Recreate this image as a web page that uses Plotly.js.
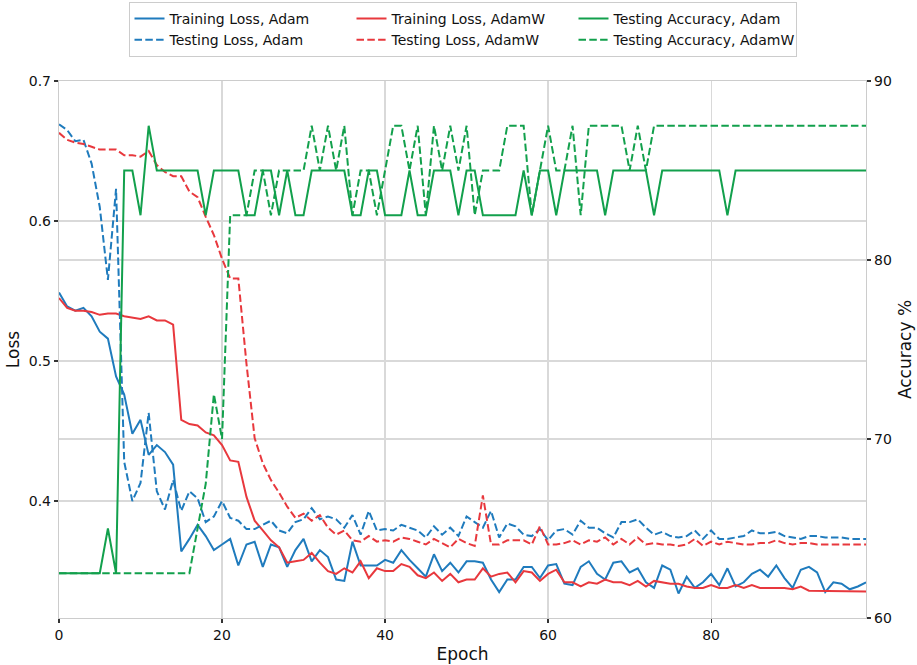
<!DOCTYPE html>
<html>
<head>
<meta charset="utf-8">
<script src="https://cdn.plot.ly/plotly-3.0.1.min.js"></script>
<style>html,body{margin:0;padding:0;background:#fff}</style>
</head>
<body>
<div id="chart" style="width:917px;height:665px"></div>
<script>
// Epoch index for every recorded point
const epochs = [0,1,2,3,4,5,6,7,8,9,10,11,12,13,14,15,16,17,18,19,20,21,22,23,24,25,26,27,28,29,
  30,31,32,33,34,35,36,37,38,39,40,41,42,43,44,45,46,47,48,49,50,51,52,53,54,55,56,57,58,59,
  60,61,62,63,64,65,66,67,68,69,70,71,72,73,74,75,76,77,78,79,80,81,82,83,84,85,86,87,88,89,
  90,91,92,93,94,95,96,97,98,99];

// Loss curves
const trainLossAdam = [0.549,0.539,0.536,0.538,0.532,0.521,0.516,0.489,0.476,0.448,
  0.458,0.433,0.440,0.435,0.426,0.364,0.373,0.383,0.375,0.365,
  0.369,0.373,0.354,0.369,0.371,0.353,0.369,0.367,0.353,0.365,
  0.373,0.357,0.365,0.360,0.344,0.343,0.371,0.354,0.354,0.354,
  0.358,0.356,0.365,0.358,0.352,0.346,0.362,0.350,0.356,0.349,
  0.357,0.357,0.356,0.344,0.335,0.344,0.344,0.353,0.353,0.345,
  0.354,0.355,0.341,0.340,0.353,0.357,0.348,0.344,0.356,0.357,
  0.349,0.352,0.342,0.338,0.354,0.351,0.334,0.346,0.338,0.342,
  0.348,0.340,0.352,0.339,0.342,0.348,0.351,0.346,0.354,0.345,
  0.338,0.351,0.353,0.349,0.335,0.342,0.341,0.337,0.339,0.342];

const trainLossAdamW = [0.545,0.538,0.536,0.536,0.535,0.533,0.534,0.534,0.532,0.531,
  0.530,0.532,0.529,0.529,0.526,0.458,0.455,0.454,0.449,0.447,
  0.440,0.429,0.428,0.403,0.386,0.379,0.372,0.367,0.356,0.357,
  0.358,0.363,0.356,0.350,0.348,0.352,0.349,0.357,0.345,0.352,
  0.350,0.350,0.355,0.353,0.347,0.345,0.349,0.343,0.348,0.342,
  0.344,0.344,0.352,0.346,0.348,0.349,0.342,0.350,0.349,0.343,
  0.348,0.351,0.342,0.342,0.339,0.342,0.341,0.344,0.342,0.342,
  0.340,0.343,0.339,0.343,0.342,0.341,0.341,0.339,0.338,0.338,
  0.340,0.338,0.338,0.340,0.338,0.340,0.338,0.338,0.338,0.338,
  0.337,0.339,0.336,0.336,0.336,0.336,0.336,0.336,0.336,0.3355];

const testLossAdam = [0.669,0.665,0.657,0.658,0.641,0.610,0.558,0.623,0.428,0.400,
  0.413,0.463,0.407,0.394,0.415,0.393,0.407,0.402,0.385,0.389,
  0.400,0.388,0.386,0.380,0.380,0.383,0.386,0.379,0.377,0.385,
  0.387,0.395,0.387,0.389,0.387,0.381,0.390,0.376,0.393,0.379,
  0.380,0.379,0.383,0.381,0.379,0.374,0.382,0.376,0.381,0.375,
  0.389,0.385,0.381,0.393,0.374,0.384,0.382,0.376,0.375,0.380,
  0.372,0.379,0.380,0.376,0.386,0.381,0.381,0.377,0.374,0.385,
  0.385,0.387,0.381,0.376,0.378,0.375,0.374,0.375,0.379,0.373,
  0.379,0.373,0.373,0.374,0.375,0.379,0.377,0.377,0.378,0.375,
  0.374,0.373,0.375,0.375,0.374,0.374,0.374,0.373,0.373,0.373];

const testLossAdamW = [0.663,0.658,0.656,0.655,0.653,0.651,0.651,0.651,0.647,0.647,
  0.646,0.650,0.640,0.635,0.632,0.632,0.621,0.617,0.603,0.590,
  0.573,0.559,0.559,0.498,0.445,0.427,0.415,0.406,0.396,0.388,
  0.391,0.386,0.390,0.381,0.376,0.379,0.372,0.371,0.375,0.371,
  0.372,0.371,0.374,0.373,0.371,0.369,0.373,0.370,0.367,0.373,
  0.370,0.368,0.404,0.369,0.369,0.372,0.372,0.372,0.369,0.382,
  0.369,0.369,0.370,0.372,0.369,0.372,0.371,0.374,0.369,0.373,
  0.369,0.374,0.369,0.370,0.369,0.369,0.368,0.369,0.373,0.368,
  0.371,0.369,0.371,0.370,0.369,0.369,0.370,0.370,0.372,0.370,
  0.369,0.370,0.370,0.369,0.369,0.369,0.369,0.369,0.369,0.369];

// Test accuracy (%)
const testAccAdam = [62.5,62.5,62.5,62.5,62.5,62.5,65,62.5,85,85,
  82.5,87.5,85,85,85,85,85,85,82.5,85,
  85,85,85,82.5,82.5,85,85,82.5,85,82.5,
  82.5,85,85,85,85,85,82.5,82.5,85,85,
  82.5,82.5,82.5,85,82.5,82.5,85,85,85,82.5,
  85,85,82.5,82.5,82.5,82.5,82.5,85,82.5,85,
  85,82.5,85,85,85,85,85,82.5,85,85,
  85,85,85,82.5,85,85,85,85,85,85,
  85,85,82.5,85,85,85,85,85,85,85,
  85,85,85,85,85,85,85,85,85,85];

const testAccAdamW = [62.5,62.5,62.5,62.5,62.5,62.5,62.5,62.5,62.5,62.5,
  62.5,62.5,62.5,62.5,62.5,62.5,62.5,65,67.5,72.5,
  70,82.5,82.5,82.5,85,85,82.5,85,85,85,
  85,87.5,85,87.5,85,87.5,82.5,85,85,82.5,
  85,87.5,87.5,85,87.5,82.5,87.5,85,87.5,85,
  87.5,82.5,85,85,85,87.5,87.5,87.5,82.5,85,
  87.5,85,85,87.5,82.5,87.5,87.5,87.5,87.5,87.5,
  85,87.5,85,87.5,87.5,87.5,87.5,87.5,87.5,87.5,
  87.5,87.5,87.5,87.5,87.5,87.5,87.5,87.5,87.5,87.5,
  87.5,87.5,87.5,87.5,87.5,87.5,87.5,87.5,87.5,87.5];

const BLUE = '#1f7bbd';
const RED = '#e8383d';
const GREEN = '#12a04c';
const DASH = '7.5px,3.3px';
const LW = 2;

function series(name, y, color, dashed, axis) {
  return {
    type: 'scatter', mode: 'lines', name: name,
    x: epochs, y: y, yaxis: axis,
    line: {color: color, width: LW, dash: dashed ? DASH : 'solid'},
    hoverinfo: 'skip'
  };
}

const traces = [
  series('Training Loss, Adam', trainLossAdam, BLUE, false, 'y'),
  series('Training Loss, AdamW', trainLossAdamW, RED, false, 'y'),
  series('Testing Accuracy, Adam', testAccAdam, GREEN, false, 'y2'),
  series('Testing Loss, Adam', testLossAdam, BLUE, true, 'y'),
  series('Testing Loss, AdamW', testLossAdamW, RED, true, 'y'),
  series('Testing Accuracy, AdamW', testAccAdamW, GREEN, true, 'y2')
];

const FONT = 'DejaVu Sans, sans-serif';
const GRID = '#d9d9d9';
const FRAME = '#cccccc';

const axisCommon = {
  showgrid: true, gridcolor: GRID, gridwidth: 1.2,
  zeroline: false, showline: true, linecolor: FRAME, linewidth: 1.2,
  ticks: 'outside', ticklen: 4, tickwidth: 1.2, tickcolor: '#333',
  tickfont: {family: FONT, size: 14, color: '#111'},
  automargin: false
};

const layout = {
  width: 917, height: 665,
  margin: {l: 59, r: 51, t: 81, b: 47, pad: 0, autoexpand: false},
  paper_bgcolor: '#fff', plot_bgcolor: '#fff',
  font: {family: FONT, size: 14, color: '#111'},
  showlegend: true,
  legend: {
    orientation: 'h', x: 0.5, xanchor: 'center', y: 1.1471, yanchor: 'top',
    entrywidth: 177, entrywidthmode: 'pixels',
    bordercolor: FRAME, borderwidth: 1, bgcolor: '#fff',
    font: {family: FONT, size: 14, color: '#111'},
    traceorder: 'normal', tracegroupgap: 0
  },
  xaxis: Object.assign({}, axisCommon, {
    range: [0, 99], tickvals: [0, 20, 40, 60, 80], mirror: true,
    title: {text: 'Epoch', font: {family: FONT, size: 17, color: '#111'}, standoff: 6}
  }),
  yaxis: Object.assign({}, axisCommon, {
    range: [0.3165, 0.7], tickvals: [0.4, 0.5, 0.6, 0.7], ticktext: ['0.4', '0.5', '0.6', '0.7'],
    title: {text: 'Loss', font: {family: FONT, size: 17, color: '#111'}, standoff: 4}
  }),
  yaxis2: Object.assign({}, axisCommon, {
    overlaying: 'y', side: 'right', range: [60, 90], tickvals: [60, 70, 80, 90],
    title: {text: 'Accuracy %', font: {family: FONT, size: 17, color: '#111'}, standoff: 8}
  })
};

Plotly.newPlot('chart', traces, layout, {displayModeBar: false, staticPlot: true});
</script>
</body>
</html>
